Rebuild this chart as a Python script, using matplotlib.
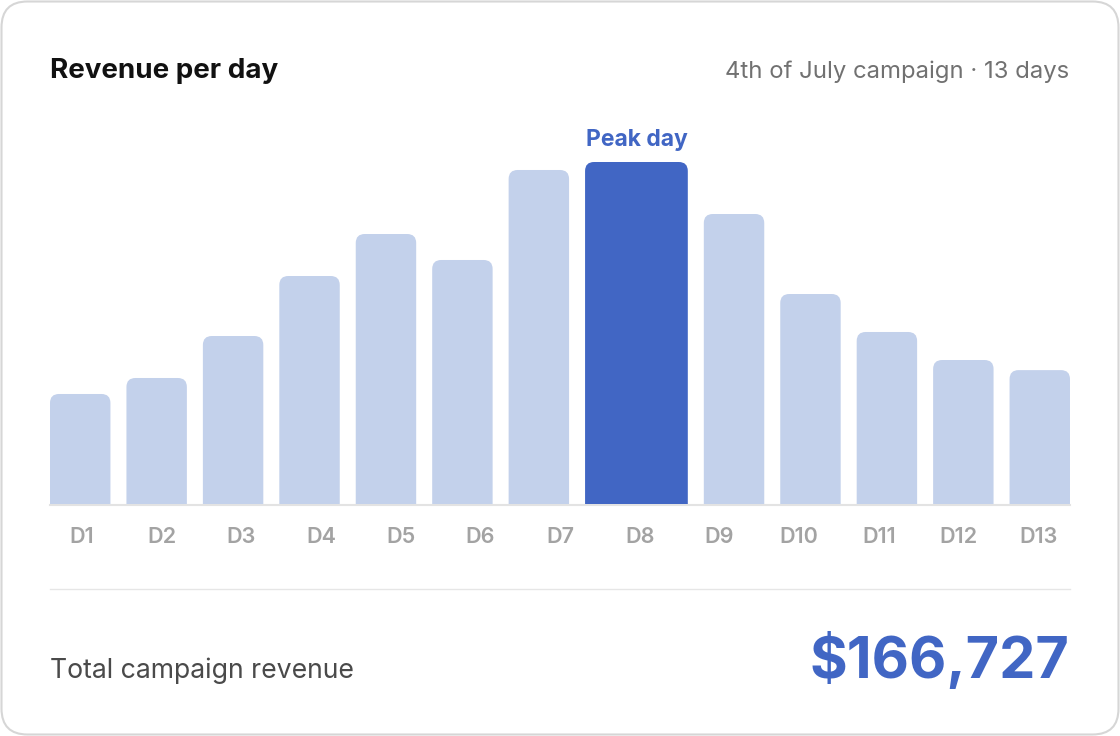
import matplotlib
matplotlib.use("Agg")
import matplotlib.pyplot as plt
import matplotlib.transforms as mtransforms
from matplotlib.patches import FancyBboxPatch, PathPatch
from matplotlib.path import Path

# ---------------- data ----------------
days = ["D1", "D2", "D3", "D4", "D5", "D6", "D7", "D8", "D9", "D10", "D11", "D12", "D13"]
revenue = [6617, 7579, 10105, 13714, 16240, 14677, 20090, 20571, 17443, 12631, 10346, 8661, 8053]
title_text = "Revenue per day"
subtitle_text = "4th of July campaign · 13 days"
peak_text = "Peak day"
total_label = "Total campaign revenue"

# ---------------- style ----------------
plt.rcParams["font.family"] = ["Inter", "DejaVu Sans"]
LIGHT = "#c3d1eb"
PEAK = "#4166c4"
W, H = 1120, 736
peak_index = revenue.index(max(revenue))
total = sum(revenue)

fig = plt.figure(figsize=(W / 100, H / 100), dpi=100)
fig.patch.set_facecolor("white")

# background axes in pixel coordinates
bg = fig.add_axes([0, 0, 1, 1])
bg.set_xlim(0, W)
bg.set_ylim(H, 0)
bg.axis("off")
card = FancyBboxPatch((1.5, 1.5), W - 3, H - 3,
                      boxstyle="round,pad=0,rounding_size=26",
                      fc="white", ec="#d6d6d6", lw=1.5)
bg.add_patch(card)

bg.text(50, 78, title_text, fontsize=20, fontweight="bold", color="#111111",
        ha="left", va="baseline")
bg.text(1069, 78, subtitle_text, fontsize=17.2, color="#717171",
        ha="right", va="baseline")

# bar plot area
left_px, right_px = 50, 1070
base_px, top_px = 504, 150
ax = fig.add_axes([left_px / W, (H - base_px) / H,
                   (right_px - left_px) / W, (base_px - top_px) / H])
ax.axis("off")
plot_w = right_px - left_px
plot_h = base_px - top_px
ymax = max(revenue) * plot_h / 342.0
ax.set_xlim(0, plot_w)
ax.set_ylim(0, ymax)

gap = 16
flex = [1.7 if i == peak_index else 1.0 for i in range(len(days))]
unit = (plot_w - gap * (len(days) - 1)) / sum(flex)
widths = [f * unit for f in flex]
lefts = []
x = 0.0
for w in widths:
    lefts.append(x)
    x += w + gap

r_px = 9
rx = r_px
ry = r_px * ymax / plot_h


def top_rounded(x0, w, h):
    verts = [(x0, 0), (x0, h - ry), (x0, h), (x0 + rx, h), (x0 + w - rx, h),
             (x0 + w, h), (x0 + w, h - ry), (x0 + w, 0), (x0, 0)]
    codes = [Path.MOVETO, Path.LINETO, Path.CURVE3, Path.CURVE3, Path.LINETO,
             Path.CURVE3, Path.CURVE3, Path.LINETO, Path.CLOSEPOLY]
    return Path(verts, codes)


for i, (x0, w, v) in enumerate(zip(lefts, widths, revenue)):
    color = PEAK if i == peak_index else LIGHT
    ax.add_patch(PathPatch(top_rounded(x0, w, v), fc=color, ec="none", zorder=2))

# baseline and separator
bg.plot([left_px, right_px], [505, 505], color="#e3e3e3", lw=1.5, zorder=1)
bg.plot([left_px, right_px], [589, 589], color="#e6e6e6", lw=1.0, zorder=1)

# day labels: evenly spaced columns (same gap) under the bars
blend = mtransforms.blended_transform_factory(ax.transData, bg.transData)
col_w = (plot_w - gap * (len(days) - 1)) / len(days)
for i, d in enumerate(days):
    cx = i * (col_w + gap) + col_w / 2
    fig.text(cx, 543, d, transform=blend, fontsize=15.5, fontweight="semibold",
             color="#a3a3a3", ha="center", va="baseline")

# peak annotation
pcx = lefts[peak_index] + widths[peak_index] / 2
ax.annotate(peak_text, xy=(pcx, revenue[peak_index]), xytext=(0, 11.5),
            textcoords="offset points", ha="center", va="baseline",
            fontsize=16.5, fontweight="bold", color=PEAK, annotation_clip=False)

# footer
bg.text(50, 678, total_label, fontsize=19.2, color="#4a4a4a",
        ha="left", va="baseline")
bg.text(1069, 678, f"${total:,}", fontsize=41.5, fontweight="bold", color=PEAK,
        ha="right", va="baseline")

fig.savefig("out.png", dpi=100, facecolor="white")
